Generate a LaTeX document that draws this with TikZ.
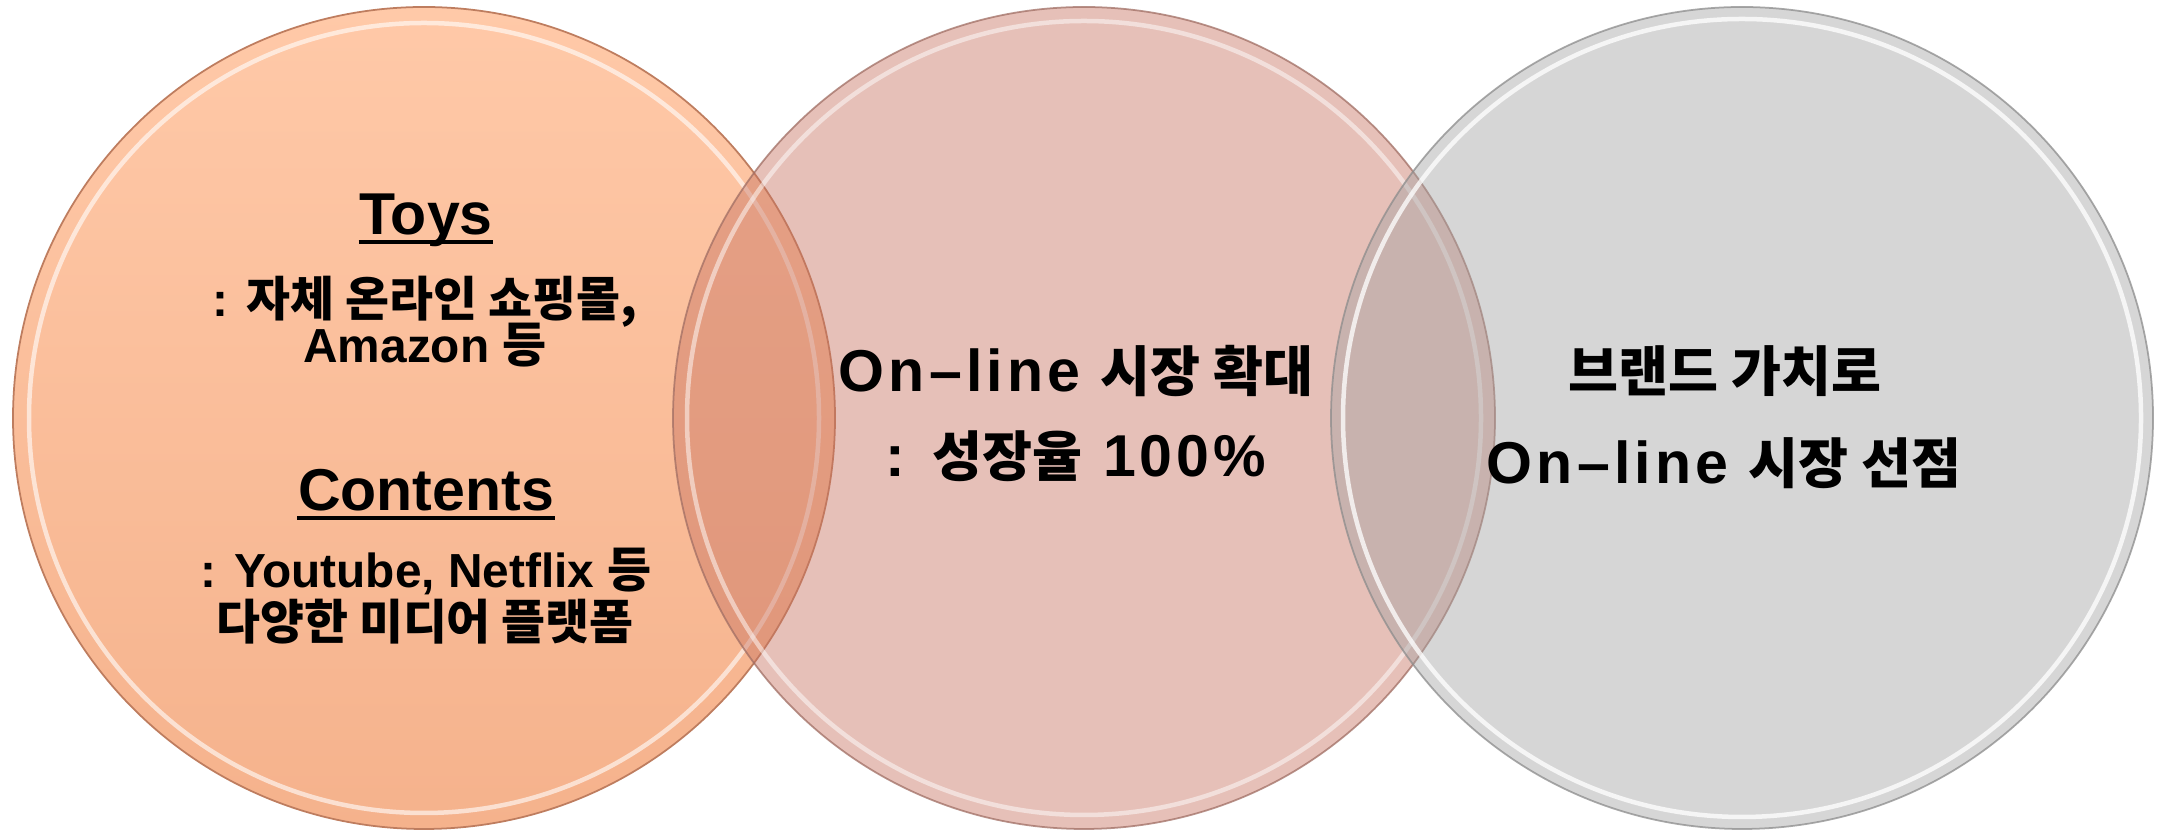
\documentclass[tikz,border=0pt]{standalone}
\usepackage{fontspec}
\setmainfont{Liberation Sans}
\newfontfamily\latwide{Liberation Sans}[LetterSpace=7]
\newfontfamily\cjk{Noto Sans CJK KR}
\newfontfamily\cjkbig{Noto Sans CJK KR}[Scale=0.92]
\newcommand\kr[1]{{\cjk #1}}
\newcommand\krb[1]{{\cjkbig #1}}
\definecolor{cOneTop}{RGB}{255,201,168}
\definecolor{cOneBot}{RGB}{245,178,140}
\definecolor{cOneEdge}{RGB}{190,125,95}
\definecolor{cTwo}{RGB}{199,115,97}
\definecolor{cTwoEdge}{RGB}{160,110,100}
\definecolor{cThree}{RGB}{162,162,162}
\definecolor{cThreeEdge}{RGB}{140,140,140}
\tikzset{
  title/.style={font=\bfseries\fontsize{16.8pt}{19pt}\selectfont, anchor=base, inner sep=0pt},
  body/.style={font=\bfseries\fontsize{13.6pt}{16pt}\selectfont, anchor=base, inner sep=0pt},
  big/.style={font=\latwide\bfseries\fontsize{16.8pt}{19pt}\selectfont, anchor=base, inner sep=0pt},
  rimlight/.style={white, line width=0.045cm, opacity=0.6},
  uline/.style={line width=0.9pt, black},
}
\begin{document}
\begin{tikzpicture}
\useasboundingbox (0,0) rectangle (21.6,8.32);
\def\R{4.11}
\coordinate (C1) at (4.24,4.14);
\coordinate (C2) at (10.84,4.14);
\coordinate (C3) at (17.42,4.14);
% circle 1
\shade[top color=cOneTop, bottom color=cOneBot] (C1) circle (\R);
\draw[rimlight] (C1) circle (\R-0.16);
\draw[cOneEdge, line width=0.5pt] (C1) circle (\R);
% circle 2
\fill[cTwo, fill opacity=0.45] (C2) circle (\R);
\draw[rimlight, opacity=0.5] (C2) circle (\R-0.14);
\draw[cTwoEdge, line width=0.5pt, opacity=0.75] (C2) circle (\R);
% circle 3
\fill[cThree, fill opacity=0.44] (C3) circle (\R);
\draw[rimlight, opacity=0.75] (C3) circle (\R-0.12);
\draw[cThreeEdge, line width=0.5pt, opacity=0.75] (C3) circle (\R);
% texts circle 1
\node[title] (toys) at (4.26,5.97) {Toys};
\draw[uline] ([yshift=-2pt]toys.base west) -- ([yshift=-2pt]toys.base east);
\node[body] (toysa) at (4.25,5.15) {: \kr{자체 온라인 쇼핑몰,}};
\node[body] (toysb) at (4.25,4.69) {Amazon \kr{등}};
\node[title] (cont) at (4.26,3.21) {Contents};
\draw[uline] ([yshift=-2pt]cont.base west) -- ([yshift=-2pt]cont.base east);
\node[body] (conta) at (4.26,2.44) {: Youtube, Netflix \kr{등}};
\node[body] (contb) at (4.25,1.92) {\kr{다양한 미디어 플랫폼}};
% texts circle 2
\node[big] (m1) at (10.76,4.40) {On–line \krb{시장 확대}};
\node[big] (m2) at (10.76,3.55) {: \krb{성장율} 100\%};
% texts circle 3
\node[big] (r1) at (17.25,4.40) {\krb{브랜드 가치로}};
\node[big] (r2) at (17.24,3.48) {On–line \krb{시장 선점}};
\end{tikzpicture}
\end{document}
